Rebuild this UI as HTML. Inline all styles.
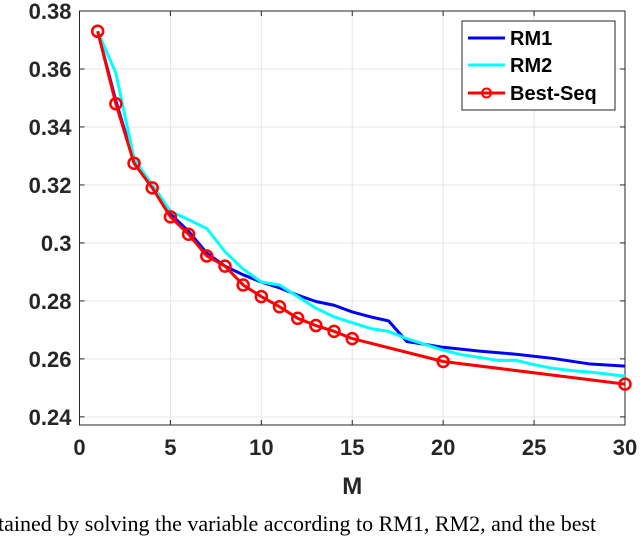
<!DOCTYPE html>
<html><head><meta charset="utf-8"><style>
body{margin:0;background:#fff;width:640px;height:524px;overflow:hidden;position:relative}
svg{position:absolute;left:0;top:0}
.t{font-family:"Liberation Sans",sans-serif;font-weight:bold;fill:#262626}
#cap{position:absolute;left:-2px;top:511px;font-family:"Liberation Serif",serif;font-size:22px;white-space:nowrap;color:#000}
</style></head><body>
<svg id="chart" width="640" height="524"></svg>
<div id="cap">tained by solving the variable according to RM1, RM2, and the best</div>
<script>
const xTicks=[0,5,10,15,20,25,30];
const yTicks=[0.24,0.26,0.28,0.3,0.32,0.34,0.36,0.38];
const yTickLabels=["0.24","0.26","0.28","0.3","0.32","0.34","0.36","0.38"];
const rm1M=[1,2,3,4,5,6,7,8,9,10,11,12,13,14,15,16,17,18,19,20,22,24,26,28,30];
const rm1V=[0.373,0.349,0.328,0.3195,0.310,0.304,0.2965,0.292,0.289,0.2865,0.2845,0.282,0.2798,0.2785,0.2762,0.2745,0.2731,0.266,0.265,0.264,0.2627,0.2616,0.2602,0.2583,0.2575];
const rm2M=[1,2,3,4,5,6,7,8,9,10,11,12,13,14,15,16,17,18,19,20,21,22,23,24,25,26,27,28,29,30];
const rm2V=[0.373,0.3586,0.329,0.320,0.311,0.308,0.305,0.297,0.291,0.2865,0.2855,0.2815,0.2775,0.2745,0.2725,0.2705,0.2695,0.267,0.265,0.263,0.2615,0.2605,0.2595,0.2595,0.258,0.2568,0.256,0.2555,0.2548,0.254];
const bsM=[1,2,3,4,5,6,7,8,9,10,11,12,13,14,15,20,30];
const bsV=[0.373,0.348,0.3275,0.319,0.309,0.303,0.2955,0.292,0.2855,0.2815,0.278,0.274,0.2715,0.2695,0.267,0.2591,0.2513];
const L=79.5,R=625,T=11,B=425,xmin=0,xmax=30,ymin=0.2372,ymax=0.38;
const X=v=>L+(v-xmin)/(xmax-xmin)*(R-L);
const Y=v=>T+(ymax-v)/(ymax-ymin)*(B-T);
const svg=document.getElementById('chart');const NS='http://www.w3.org/2000/svg';
function mk(tag,attrs,parent){const e=document.createElementNS(NS,tag);for(const k in attrs)e.setAttribute(k,attrs[k]);(parent||svg).appendChild(e);return e;}
const grid=mk('g',{});


xTicks.forEach(v=>{mk('line',{x1:X(v),x2:X(v),y1:T,y2:B,stroke:'#e6e6e6','stroke-width':1},grid);});
yTicks.forEach(v=>{mk('line',{x1:L,x2:R,y1:Y(v),y2:Y(v),stroke:'#e6e6e6','stroke-width':1},grid);});
const ax=mk('g',{});


mk('rect',{x:L,y:T,width:R-L,height:B-T,fill:'none',stroke:'#262626','stroke-width':1},ax);
xTicks.forEach(v=>{mk('line',{x1:X(v),x2:X(v),y1:B,y2:B-5,stroke:'#262626'},ax);mk('line',{x1:X(v),x2:X(v),y1:T,y2:T+5,stroke:'#262626'},ax);
 const t=mk('text',{x:X(v),y:B+30,'text-anchor':'middle','font-size':22,class:'t'},ax);t.textContent=v;
 
 });
yTicks.forEach((v,i)=>{mk('line',{x1:L,x2:L+5,y1:Y(v),y2:Y(v),stroke:'#262626'},ax);mk('line',{x1:R,x2:R-5,y1:Y(v),y2:Y(v),stroke:'#262626'},ax);
 const t=mk('text',{x:L-8,y:Y(v)+8,'text-anchor':'end','font-size':22,class:'t'},ax);t.textContent=yTickLabels[i];
 
 });
const xt=mk('text',{x:(L+R)/2,y:494,'text-anchor':'middle','font-size':24,class:'t'});xt.textContent='M';


function line(ms,vs,color,name){const p=mk('polyline',{points:ms.map((m,i)=>X(m)+','+Y(vs[i])).join(' '),fill:'none',stroke:color,'stroke-width':3,'stroke-linejoin':'round'});
 
 }
line(rm1M,rm1V,'#0000ff','rm1-line');
line(rm2M,rm2V,'#00ffff','rm2-line');
line(bsM,bsV,'#ff0000','best-seq-line');
bsM.forEach((m,i)=>{const c=mk('circle',{cx:X(m),cy:Y(bsV[i]),r:5.5,fill:'none',stroke:'#ff0000','stroke-width':2.5});
 
 });
const lg=mk('g',{});


mk('rect',{x:462,y:21,width:153,height:89,fill:'#fff',stroke:'#262626','stroke-width':1},lg);
[['RM1','#0000ff',38],['RM2','#00ffff',65],['Best-Seq','#ff0000',93]].forEach(([n,c,y],i)=>{
 const g=mk('g',{},lg);
 
 
 mk('line',{x1:468,x2:505,y1:y,y2:y,stroke:c,'stroke-width':3},g);
 if(i==2)mk('circle',{cx:486.5,cy:y,r:4.5,fill:'none',stroke:c,'stroke-width':2},g);
 const t=mk('text',{x:510,y:y+7,'font-size':20,class:'t'},g);t.style.fill='#000';t.textContent=n;});
</script>
</body></html>
